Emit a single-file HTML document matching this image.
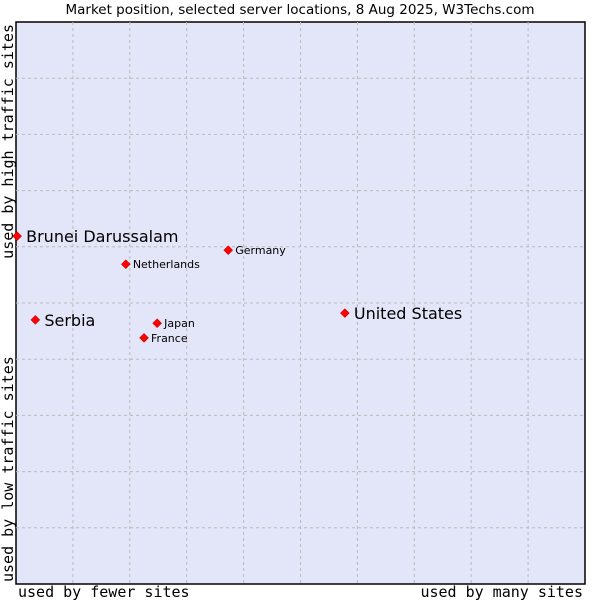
<!DOCTYPE html>
<html><head><meta charset="utf-8"><style>
body{margin:0;background:#fff;width:600px;height:600px;overflow:hidden}
</style></head><body>
<svg id="c" width="600" height="600" style="font-family:'DejaVu Sans',sans-serif">
<text x="300" y="14" text-anchor="middle" font-size="13.5" fill="#000">Market position, selected server locations, 8 Aug 2025, W3Techs.com</text>
<rect x="16" y="22" width="569" height="562" fill="#e3e5f8" stroke="#000" stroke-width="1.5"/>
<g id="grid"></g>
<g id="pts"></g>
<text x="18" y="597" font-family="'DejaVu Sans Mono',monospace" font-size="15">used by fewer sites</text>
<text x="583" y="597" text-anchor="end" font-family="'DejaVu Sans Mono',monospace" font-size="15">used by many sites</text>
<text transform="translate(13,582) rotate(-90)" font-family="'DejaVu Sans Mono',monospace" font-size="15">used by low traffic sites</text>
<text transform="translate(13,24) rotate(-90)" text-anchor="end" font-family="'DejaVu Sans Mono',monospace" font-size="15">used by high traffic sites</text>
</svg>
<script>
const names=["Brunei Darussalam","Netherlands","Germany","Serbia","Japan","France","United States"];
const xs=[0.2,19.3,37.3,3.4,24.8,22.5,57.8];
const ys=[61.9,56.9,59.4,47.0,46.4,43.8,48.2];
const big=[true,false,false,true,false,false,true];
const NS="http://www.w3.org/2000/svg";
const X0=16,W=569,Y0=22,H=562;
const sx=v=>X0+v/100*W, sy=v=>Y0+H-v/100*H;
const g=document.getElementById('grid'),p=document.getElementById('pts');
for(let i=1;i<10;i++){
 let l=document.createElementNS(NS,'line');
 
 
 l.setAttribute('x1',sx(i*10));l.setAttribute('x2',sx(i*10));l.setAttribute('y1',Y0);l.setAttribute('y2',Y0+H);
 l.setAttribute('stroke','#bbb');l.setAttribute('stroke-dasharray','3,3');g.appendChild(l);
 let m=document.createElementNS(NS,'line');
 
 
 m.setAttribute('y1',sy(i*10));m.setAttribute('y2',sy(i*10));m.setAttribute('x1',X0);m.setAttribute('x2',X0+W);
 m.setAttribute('stroke','#bbb');m.setAttribute('stroke-dasharray','3,3');g.appendChild(m);
}
names.forEach((n,i)=>{
 const x=sx(xs[i]),y=sy(ys[i]);
 const d=document.createElementNS(NS,'path');
 
 
 d.setAttribute('d',`M${x},${y-4.5}L${x+4.5},${y}L${x},${y+4.5}L${x-4.5},${y}Z`);
 d.setAttribute('fill','#f00');d.setAttribute('stroke','#a00');d.setAttribute('stroke-width','0.5');p.appendChild(d);
 const t=document.createElementNS(NS,'text');
 
 
 t.setAttribute('x',x+(big[i]?9:7));t.setAttribute('y',y+(big[i]?6:4));
 t.setAttribute('font-size',big[i]?16:11);t.textContent=n;p.appendChild(t);
});
</script>
</body></html>
